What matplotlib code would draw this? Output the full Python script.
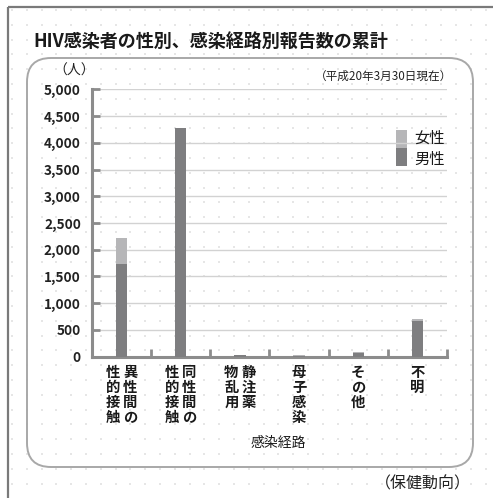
import matplotlib
matplotlib.use("Agg")
import matplotlib.pyplot as plt
from matplotlib.patches import FancyBboxPatch, Rectangle
import numpy as np

plt.rcParams["font.family"] = ["Noto Sans CJK JP", "DejaVu Sans"]

# cumulative HIV reports by route of infection (as of 2008-03-30)
routes = ["異性間の性的接触", "同性間の性的接触", "静注薬物乱用", "母子感染", "その他", "不明"]
# vertical label columns, right column first (tategaki)
route_cols = [["異性間の", "性的接触"], ["同性間の", "性的接触"], ["静注薬", "物乱用"],
              ["母子感染"], ["その他"], ["不明"]]
male = [1736, 4272, 36, 20, 70, 660]
female = [481, 10, 3, 17, 24, 40]
yticks = list(range(0, 5001, 500))

W, H = 493, 498
C_MALE, C_FEMALE = "#7e7e80", "#b6b6b8"
C_AXIS = "#8c8c8c"

fig = plt.figure(figsize=(W / 100, H / 100), dpi=100)
fx = lambda x: x / W
fy = lambda y: 1 - y / H

# background: dotted paper, outer border, rounded panel
bg = fig.add_axes([0, 0, 1, 1], zorder=-5)
bg.set_xlim(0, W); bg.set_ylim(H, 0); bg.axis("off")
gx, gy = np.meshgrid(np.arange(12, W, 14.8), np.arange(10, H, 14.8))
bg.scatter(gx.ravel(), gy.ravel(), s=2.2, c="#e6e6e6", marker="s", lw=0)
bg.add_patch(Rectangle((8, 7), W, H, fill=False, ec="#7a7a7a", lw=1.6))
bg.add_patch(FancyBboxPatch((27, 58), 446, 409, boxstyle="round,pad=0,rounding_size=24",
                            fc="none", ec="#a8a8a8", lw=1.4))

fig.text(fx(33), fy(41), "HIV感染者の性別、感染経路別報告数の累計", fontsize=13.0,
         fontweight="bold", ha="left", va="center", color="#1a1a1a")
fig.text(fx(74), fy(71), "（人）", fontsize=10, ha="center", va="center", color="#222")
fig.text(fx(452), fy(76), "（平成20年3月30日現在）", fontsize=8.4, ha="right", va="center",
         color="#222")
fig.text(fx(471), fy(484), "（保健動向）", fontsize=11.5, ha="right", va="center", color="#222")

ax = fig.add_axes([fx(92), fy(356.7), fx(447) - fx(92), fy(89.3) - fy(356.7)])
x = np.arange(len(routes))
ax.bar(x, male, width=0.19, color=C_MALE, zorder=3)
ax.bar(x, female, width=0.19, bottom=male, color=C_FEMALE, zorder=3)

ax.set_xlim(-0.5, len(routes) - 0.5)
ax.set_ylim(0, 5000)
ax.set_yticks(yticks)
ax.set_yticklabels([f"{v:,}" for v in yticks], fontsize=9.8, fontweight="bold", color="#222")
ax.set_xticks(np.arange(0.5, len(routes), 1.0))
ax.set_xticklabels([])
ax.tick_params(axis="y", direction="in", length=6, width=2, color=C_AXIS, pad=8)
ax.tick_params(axis="x", direction="in", length=6, width=2, color=C_AXIS)
ax.grid(axis="y", color="#d2d2d2", lw=1, zorder=0)
ax.set_facecolor("none")
for s in ("top", "right"):
    ax.spines[s].set_visible(False)
for s in ("left", "bottom"):
    ax.spines[s].set_color(C_AXIS)
    ax.spines[s].set_linewidth(2.2)

# vertical category labels under the axis
for i, cols in enumerate(route_cols):
    n = len(cols)
    for j, col in enumerate(cols):
        off = (n - 1) / 2 - j
        ax.text(i + off * 0.29, -0.035, "\n".join(col), transform=ax.get_xaxis_transform(),
                ha="center", va="top", fontsize=10.3, fontweight="bold", linespacing=1.08,
                color="#1a1a1a")
fig.text(fx(278), fy(443), "感染経路", fontsize=10, ha="center", va="center", color="#1a1a1a")

# legend swatches
bg.add_patch(Rectangle((396, 130), 11, 18, fc=C_FEMALE, ec="none"))
bg.add_patch(Rectangle((396, 148), 11, 18, fc=C_MALE, ec="none"))
fig.text(fx(414), fy(138), "女性", fontsize=11, ha="left", va="center", color="#1a1a1a")
fig.text(fx(414), fy(159), "男性", fontsize=11, ha="left", va="center", color="#1a1a1a")

fig.savefig("out.png", dpi=100)
